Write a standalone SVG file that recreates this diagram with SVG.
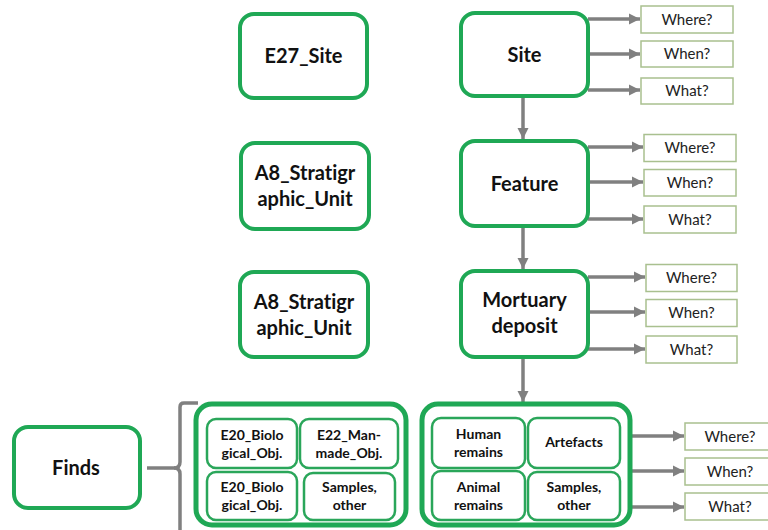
<svg xmlns="http://www.w3.org/2000/svg" width="768" height="530" viewBox="0 0 768 530">
<defs>
<marker id="ah" markerUnits="userSpaceOnUse" markerWidth="12" markerHeight="12" refX="11" refY="6" orient="auto">
<path d="M0,0.5 L11,6 L0,11.5 Z" fill="#808080"/>
</marker>
<style>
text{font-variant-ligatures:none;font-feature-settings:"liga" 0}
.node{fill:#fff;stroke:#1fa855;stroke-width:4}
.big{fill:#fff;stroke:#1fa855;stroke-width:5}
.inner{fill:#fff;stroke:#2aa65a;stroke-width:2.5}
.q{fill:#fff;stroke:#a9c08f;stroke-width:1.5}
.lbl{font-family:Lato,"Liberation Sans",sans-serif;font-weight:bold;font-size:20px;fill:#111;text-anchor:middle}
.sm{font-family:Lato,"Liberation Sans",sans-serif;font-weight:bold;font-size:14px;fill:#111;text-anchor:middle}
.qt{font-family:Lato,"Liberation Sans",sans-serif;font-size:15px;fill:#222;text-anchor:middle}
.c{stroke:#808080;stroke-width:3.5;fill:none}
</style>
</defs>
<rect width="768" height="530" fill="#fff"/>

<g id="connectors">
<line class="c" x1="588" y1="19" x2="640" y2="19" marker-end="url(#ah)"/>
<line class="c" x1="588" y1="54" x2="640" y2="54" marker-end="url(#ah)"/>
<line class="c" x1="588" y1="90" x2="640" y2="90" marker-end="url(#ah)"/>
<line class="c" x1="588" y1="147" x2="643" y2="147" marker-end="url(#ah)"/>
<line class="c" x1="588" y1="182" x2="643" y2="182" marker-end="url(#ah)"/>
<line class="c" x1="588" y1="219" x2="643" y2="219" marker-end="url(#ah)"/>
<line class="c" x1="588" y1="277" x2="645" y2="277" marker-end="url(#ah)"/>
<line class="c" x1="588" y1="312" x2="645" y2="312" marker-end="url(#ah)"/>
<line class="c" x1="588" y1="349" x2="645" y2="349" marker-end="url(#ah)"/>
<line class="c" x1="630" y1="436" x2="684" y2="436" marker-end="url(#ah)"/>
<line class="c" x1="630" y1="471" x2="684" y2="471" marker-end="url(#ah)"/>
<line class="c" x1="630" y1="507" x2="684" y2="507" marker-end="url(#ah)"/>
<line class="c" x1="523" y1="96" x2="523" y2="139" marker-end="url(#ah)"/>
<line class="c" x1="523" y1="226" x2="523" y2="269" marker-end="url(#ah)"/>
<line class="c" x1="523" y1="357" x2="523" y2="402" marker-end="url(#ah)"/>
<line class="c" x1="147" y1="468" x2="175" y2="468" stroke-width="3"/>
<path class="c" stroke-width="3" d="M198,403 H184 Q180,403 180,407 V462 Q180,468 174,468 Q180,468 180,474 V530"/>
</g>

<g id="e27_site"><rect class="node" x="240" y="14" width="127" height="84" rx="14"/><text class="lbl" x="303.5" y="63">E27_Site</text></g>
<g id="a8_1"><rect class="node" x="241" y="143" width="128" height="86" rx="14"/><text class="lbl" x="305" y="180">A8_Stratigr</text><text class="lbl" x="305" y="206">aphic_Unit</text></g>
<g id="a8_2"><rect class="node" x="240" y="272" width="128" height="85" rx="14"/><text class="lbl" x="304" y="309">A8_Stratigr</text><text class="lbl" x="304" y="335">aphic_Unit</text></g>

<g id="site"><rect class="node" x="461" y="13" width="127" height="83" rx="14"/><text class="lbl" x="524.5" y="62">Site</text></g>
<g id="feature"><rect class="node" x="461" y="141" width="127" height="85" rx="14"/><text class="lbl" x="524.5" y="191">Feature</text></g>
<g id="mortuary"><rect class="node" x="461" y="271" width="127" height="86" rx="14"/><text class="lbl" x="524.5" y="307">Mortuary</text><text class="lbl" x="524.5" y="333">deposit</text></g>

<g id="q_site_where"><rect class="q" x="641" y="6" width="92" height="27"/><text class="qt" x="687" y="24.5">Where?</text></g>
<g id="q_site_when"><rect class="q" x="641" y="41" width="92" height="26"/><text class="qt" x="687" y="59">When?</text></g>
<g id="q_site_what"><rect class="q" x="641" y="78" width="92" height="26"/><text class="qt" x="687" y="96">What?</text></g>
<g id="q_feat_where"><rect class="q" x="644" y="134.5" width="92" height="27"/><text class="qt" x="690" y="153">Where?</text></g>
<g id="q_feat_when"><rect class="q" x="644" y="169.5" width="92" height="26.5"/><text class="qt" x="690" y="188">When?</text></g>
<g id="q_feat_what"><rect class="q" x="644" y="206" width="92" height="27"/><text class="qt" x="690" y="224.5">What?</text></g>
<g id="q_mort_where"><rect class="q" x="646" y="264.5" width="91" height="27"/><text class="qt" x="691.5" y="283">Where?</text></g>
<g id="q_mort_when"><rect class="q" x="646" y="299.5" width="91" height="27"/><text class="qt" x="691.5" y="318">When?</text></g>
<g id="q_mort_what"><rect class="q" x="646" y="336" width="91" height="27"/><text class="qt" x="691.5" y="354.5">What?</text></g>

<g id="finds"><rect class="node" x="14" y="427" width="126" height="81" rx="14"/><text class="lbl" x="76" y="475">Finds</text></g>

<g id="group_cidoc">
<rect class="big" x="196" y="404" width="210" height="121" rx="16"/>
<g id="e20_a"><rect class="inner" x="207" y="419" width="90" height="49" rx="9"/><text class="sm" x="252" y="440">E20_Biolo</text><text class="sm" x="252" y="458">gical_Obj.</text></g>
<g id="e22"><rect class="inner" x="300" y="419" width="98" height="49" rx="9"/><text class="sm" x="349" y="440">E22_Man-</text><text class="sm" x="349" y="458">made_Obj.</text></g>
<g id="e20_b"><rect class="inner" x="207" y="472" width="90" height="48" rx="9"/><text class="sm" x="252" y="492">E20_Biolo</text><text class="sm" x="252" y="510">gical_Obj.</text></g>
<g id="samples_a"><rect class="inner" x="304" y="473" width="91" height="47" rx="9"/><text class="sm" x="349.5" y="492">Samples,</text><text class="sm" x="349.5" y="510">other</text></g>
</g>

<g id="group_finds">
<rect class="big" x="422" y="404" width="208" height="121" rx="16"/>
<g id="human"><rect class="inner" x="432" y="418" width="93" height="50" rx="9"/><text class="sm" x="478.5" y="439">Human</text><text class="sm" x="478.5" y="457">remains</text></g>
<g id="artefacts"><rect class="inner" x="528" y="418" width="92" height="50" rx="9"/><text class="sm" x="574" y="447">Artefacts</text></g>
<g id="animal"><rect class="inner" x="432" y="471" width="93" height="49" rx="9"/><text class="sm" x="478.5" y="492">Animal</text><text class="sm" x="478.5" y="510">remains</text></g>
<g id="samples_b"><rect class="inner" x="528" y="472" width="92" height="48" rx="9"/><text class="sm" x="574" y="492">Samples,</text><text class="sm" x="574" y="510">other</text></g>
</g>

<g id="q_finds_where"><rect class="q" x="685" y="423" width="86" height="27"/><text class="qt" x="730" y="442">Where?</text></g>
<g id="q_finds_when"><rect class="q" x="685" y="458" width="86" height="27"/><text class="qt" x="730" y="477">When?</text></g>
<g id="q_finds_what"><rect class="q" x="685" y="493" width="86" height="27"/><text class="qt" x="730" y="512">What?</text></g>
</svg>
